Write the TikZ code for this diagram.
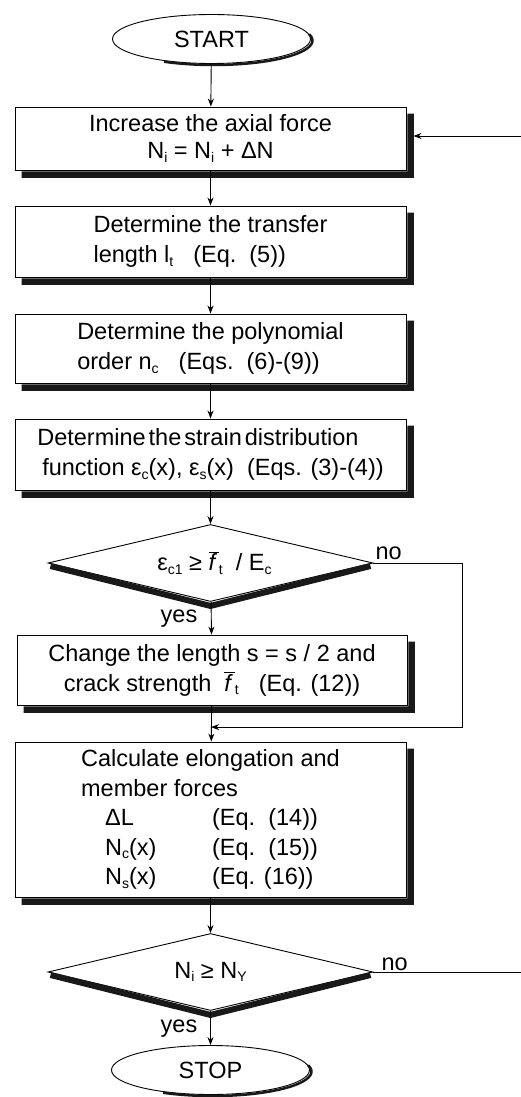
\documentclass[tikz,border=0pt]{standalone}
\usepackage{fontspec}
\setmainfont{Liberation Sans}
\usetikzlibrary{positioning, shapes.geometric, arrows.meta, calc}

\definecolor{shadowgray}{RGB}{25,25,25}
\newcommand{\subidx}[1]{\raisebox{-0.3ex}{\fontsize{14}{14}\selectfont #1}}
\newcommand{\barf}{\ensuremath{\overline{\mbox{\itshape f\,}}}}

\tikzset{
  txt/.style={font=\fontsize{23.5}{30}\selectfont},
  proc/.style={txt, draw, rectangle, line width=0.9pt, fill=white, minimum width=391pt,
    inner sep=0pt, align=left},
  test/.style={txt, draw, diamond, line width=0.9pt, fill=white, inner sep=0pt,
    shape aspect=4.2, minimum width=325pt, minimum height=77pt},
  term/.style={txt, draw, ellipse, line width=0.9pt, fill=white, inner sep=0pt,
    minimum width=198pt, minimum height=49pt},
  boxshade/.style={draw=shadowgray, line width=6pt, line cap=butt, line join=round},
  arr/.style={-{Stealth[length=8pt,width=6pt]}, line width=0.9pt},
  lbl/.style={txt, inner sep=0pt}
}

\begin{document}
\begin{tikzpicture}[x=1pt, y=1pt]
      \useasboundingbox (0,0) rectangle (521,-1097);

      % Terminals
      \node[term] (st) at (211.5,-39) {START};
      \node[term] (sp) at (210.5,-1070) {STOP};

      % Process boxes
      \node[proc, minimum height=63pt, align=center, font=\fontsize{23.5}{26.5}\selectfont] (b1) at (210.5,-138.5)
        {Increase the axial force\\ N\subidx{i} = N\subidx{i} + ΔN};
      \node[proc, minimum height=71pt] (b2) at (210.5,-241.5)
        {Determine the transfer\\ length l\subidx{t}\hspace{20pt}(Eq.~~(5))};
      \node[proc, minimum height=69pt] (b3) at (210.5,-348.5)
        {Determine the polynomial\\ order n\subidx{c}\hspace{20pt}(Eqs.~~(6)-(9))};
      \node[proc, minimum height=71pt] (b4) at (210.5,-454.5)
        {Determine\hspace{3pt}the\hspace{3pt}strain\hspace{3pt}distribution\\
         \hspace*{5pt}function ε\subidx{c}(x), ε\subidx{s}(x)~~(Eqs. (3)-(4))};
      \node[proc, minimum width=390pt, minimum height=70pt, align=center] (b5) at (212,-670)
        {Change the length s = s / 2 and\\ crack strength~~\barf\subidx{t}\hspace{20pt}(Eq. (12))};
      \node[proc, minimum height=155pt, font=\fontsize{23.5}{29.5}\selectfont] (b6) at (210.5,-819.5)
        {Calculate elongation and\\ member forces\\
         \hspace*{24pt}\makebox[107pt][l]{ΔL}(Eq.~~(14))\\
         \hspace*{24pt}\makebox[107pt][l]{N\subidx{c}(x)}(Eq.~~(15))\\
         \hspace*{24pt}\makebox[107pt][l]{N\subidx{s}(x)}(Eq. (16))};

      % Decisions
      \node[test] (d1) at (210.5,-563) {\hspace*{8pt}ε\subidx{c1} ≥ \barf\subidx{t}~~/ E\subidx{c}};
      \node[test] (d2) at (210.5,-972) {N\subidx{i} ≥ N\subidx{Y}};

      % Shadows
      \foreach \n in {b1,b2,b3,b4,b5,b6}
        \fill[shadowgray] ([shift={(1,-7)}]\n.north east) -- ([shift={(7.5,-7)}]\n.north east)
          -- ([shift={(7.5,-7.5)}]\n.south east) -- ([shift={(7,-7.5)}]\n.south west)
          -- ([shift={(7,-1)}]\n.south west) -- ([shift={(1,-1)}]\n.south east) -- cycle;
      \foreach \n in {d1,d2}
        \draw[boxshade]
          ([shift={(3,-3)}]\n.west) -- ([shift={(0,-4)}]\n.south) -- ([shift={(-3,-3)}]\n.east);
      \foreach \n in {st,sp}
        \draw[shadowgray, line width=2.5pt] ([shift={(2,-1.5)}]\n.center) ++(15:99 and 24.5)
          arc [start angle=15, end angle=-120, x radius=99, y radius=24.5];

      % Labels
      \node[lbl, anchor=south west] (no1) at ([xshift=2pt,yshift=3pt]d1.east) {no};
      \node[lbl, anchor=south west] (no2) at ([xshift=8pt,yshift=1pt]d2.east) {no};
      \node[lbl, anchor=north east] (yes1) at ([xshift=-13pt,yshift=-8pt]d1.south) {yes};
      \node[lbl, anchor=north east] (yes2) at ([xshift=-13pt,yshift=-9pt]d2.south) {yes};

      % Main flow
      \draw[arr] (st) -- (b1);
      \draw[arr] (b1) -- (b2);
      \draw[arr] (b2) -- (b3);
      \draw[arr] (b3) -- (b4);
      \draw[arr] (b4) -- (d1);
      \draw[arr] (d1) -- (b5);
      \draw[arr] (b5) -- (b6);
      \draw[arr] (b6) -- (d2);
      \draw[arr] (d2) -- (sp);

      % Loops
      \coordinate (join) at ($(b5.south)!0.6!(b6.north)$);
      \draw[arr] (d1.east) -- ++(89pt,0) |- (join);
      \draw[arr] (d2.east) -- ++(170pt,0) |- ([xshift=7pt,yshift=2.5pt]b1.east);
    \end{tikzpicture}
\end{document}
